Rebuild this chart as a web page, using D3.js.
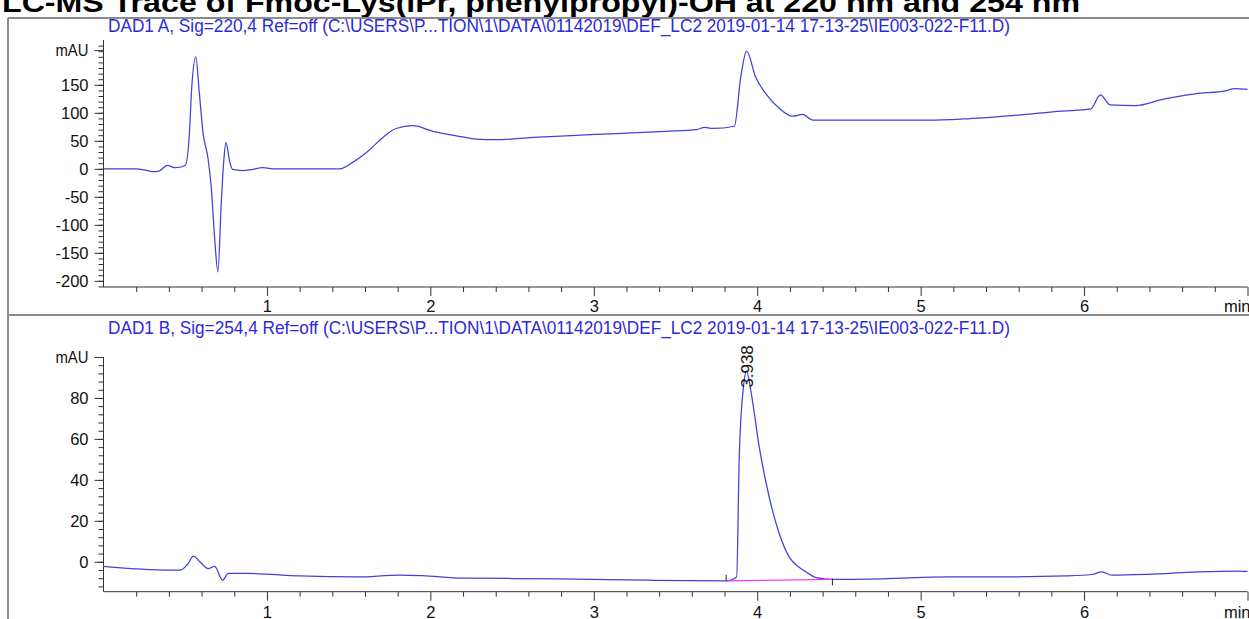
<!DOCTYPE html>
<html>
<head>
<meta charset="utf-8">
<script src="https://cdn.jsdelivr.net/npm/d3@7"></script>
<style>
  html, body { margin: 0; padding: 0; background: #fff; overflow: hidden; }
  svg { display: block; }
  text { font-family: "Liberation Sans", Arial, sans-serif; }
</style>
</head>
<body>
<svg id="chart" width="1249" height="619"></svg>
<script>
// ---------------- DATA ----------------
const chartTitle = "LC-MS Trace of Fmoc-Lys(iPr, phenylpropyl)-OH at 220 nm and 254 nm";
const headerA = "DAD1 A, Sig=220,4 Ref=off (C:\\USERS\\P...TION\\1\\DATA\\01142019\\DEF_LC2 2019-01-14 17-13-25\\IE003-022-F11.D)";
const headerB = "DAD1 B, Sig=254,4 Ref=off (C:\\USERS\\P...TION\\1\\DATA\\01142019\\DEF_LC2 2019-01-14 17-13-25\\IE003-022-F11.D)";

const timeDomain = [0, 7];
const timeTickLabels = [1, 2, 3, 4, 5, 6];
const timeUnit = "min";

// Signal A, 220 nm (time in min, absorbance in mAU)
const timesA = [0.00, 0.20, 0.25, 0.30, 0.34, 0.39, 0.44, 0.50, 0.525, 0.539, 0.565, 0.585, 0.61, 0.64, 0.66, 0.68, 0.70, 0.72, 0.737, 0.749, 0.773, 0.79, 0.85, 0.895, 0.975, 1.05, 1.20, 1.445, 1.527, 1.609, 1.71, 1.79, 1.894, 2.016, 2.16, 2.28, 2.40, 2.63, 2.83, 3.14, 3.44, 3.63, 3.677, 3.727, 3.86, 3.90, 3.935, 3.99, 4.05, 4.135, 4.216, 4.278, 4.34, 4.50, 5.05, 5.26, 5.56, 5.865, 6.04, 6.10, 6.16, 6.315, 6.48, 6.68, 6.865, 6.92, 7.00];
const valuesA = [0, 0, -2, -5, -4, 6, 2, 6, 60, 141, 200, 140, 62, 18, -35, -123, -184, -64, 18, 47, 12, -1, -3, -2, 2, 0, 0, 0, 12, 29, 56, 72, 77, 67, 59, 53, 52, 56, 59, 63, 67, 70, 74, 72, 76, 165, 210, 164, 135, 108, 94, 97, 87, 87, 87, 89, 95, 103, 107, 132, 114, 113, 124, 134, 139, 143, 142];
const yDomainA = [-211, 230];
const yTicksA = [-200, -150, -100, -50, 0, 50, 100, 150];
const yUnitPosA = 212;

// Signal B, 254 nm
const timesB = [0.00, 0.284, 0.468, 0.518, 0.549, 0.59, 0.64, 0.68, 0.729, 0.763, 0.895, 1.2, 1.548, 1.81, 1.95, 2.2, 2.8, 3.34, 3.81, 3.874, 3.89, 3.915, 3.935, 3.962, 4.013, 4.074, 4.135, 4.196, 4.258, 4.298, 4.36, 4.46, 4.77, 5.17, 5.48, 5.89, 6.05, 6.107, 6.17, 6.39, 6.7, 6.93, 7.0];
const valuesB = [-2.2, -3.8, -4.1, -0.9, 2.8, 0, -3.3, -2.2, -9, -5.7, -5.7, -6.9, -7.4, -6.5, -6.8, -8, -8.3, -9, -9.3, -7.4, 50.8, 84.8, 93, 83, 55.7, 31.4, 13.7, 2.3, -2.8, -4.9, -7.7, -8.6, -8.3, -7.4, -7.4, -6.9, -6.2, -4.9, -6.5, -6.1, -4.9, -4.5, -4.7];
const yDomainB = [-14.6, 100];
const yTicksB = [0, 20, 40, 60, 80];
const yUnitPosB = 100;

// Integrated peak in B
const peakLabels = ["3.938"];
const peakTimes = [3.938];
const peakLabelBase = [85];
const intBaseTimes = [3.81, 4.46];
const intBaseValues = [-9.3, -8.6];

// ---------------- LAYOUT ----------------
const W = 1249, H = 619;
const svg = d3.select("#chart");
svg.append("rect").attr("width", W).attr("height", H).attr("fill", "#fff");

const frameColor = "#8c8c8c";
const axisColor = "#333";
const traceColor = "#4242d8";
const headerColor = "#2a2ad8";
const frameTop = 18;

// Title (partially cut at top)
svg.append("text")
  .attr("x", 2).attr("y", 12)
  .attr("font-size", 28).attr("font-weight", "bold").attr("fill", "#000")
  .attr("textLength", 1078).attr("lengthAdjust", "spacingAndGlyphs")
  .text(chartTitle);

// Frame
svg.append("line").attr("x1", 8).attr("x2", W).attr("y1", frameTop).attr("y2", frameTop)
  .attr("stroke", frameColor).attr("stroke-width", 2);
svg.append("line").attr("x1", 8).attr("x2", 8).attr("y1", frameTop).attr("y2", H)
  .attr("stroke", frameColor).attr("stroke-width", 2);
svg.append("line").attr("x1", 8).attr("x2", W).attr("y1", 315).attr("y2", 315)
  .attr("stroke", frameColor).attr("stroke-width", 2);

const x = d3.scaleLinear().domain(timeDomain).range([103.5, 1247.5]);

function panel(cfg) {
  const y = d3.scaleLinear().domain(cfg.yDomain).range([cfg.bottom, cfg.top]);
  const g = svg.append("g");

  // header
  g.append("text")
    .attr("x", 108).attr("y", cfg.headerY)
    .attr("font-size", 17.5).attr("fill", headerColor)
    .attr("textLength", 902).attr("lengthAdjust", "spacingAndGlyphs")
    .text(cfg.header);

  // minor y ticks
  const minorY = d3.range(cfg.minorStart, cfg.minorEnd + 1e-9, cfg.minorStep);
  g.append("g").attr("transform", `translate(${x(0)},0)`)
    .call(d3.axisLeft(y).tickValues(minorY).tickSize(5).tickFormat(""))
    .call(a => a.select(".domain").remove())
    .call(a => a.selectAll("line").attr("stroke", axisColor));

  // major y ticks
  const yAxis = g.append("g").attr("transform", `translate(${x(0)},0)`)
    .call(d3.axisLeft(y).tickValues(cfg.yTicks.concat([cfg.unitPos])).tickSize(9).tickPadding(6)
      .tickFormat(d => d === cfg.unitPos ? "mAU" : String(d)));
  yAxis.select(".domain").attr("d", `M0,${cfg.bottom}V${cfg.top}`).attr("stroke", axisColor);
  yAxis.selectAll("line").attr("stroke", axisColor);
  yAxis.selectAll("text").attr("font-size", 16.5).attr("fill", "#111")
    .attr("font-family", "'Liberation Sans', Arial, sans-serif");
  yAxis.selectAll("text").filter(d => d === cfg.unitPos)
    .attr("font-size", 17)
    .attr("textLength", 33).attr("lengthAdjust", "spacingAndGlyphs");

  // minor x ticks
  const minorX = d3.range(0, 7.0001, 0.2).filter(v => Math.abs(v - Math.round(v)) > 1e-6);
  g.append("g").attr("transform", `translate(0,${cfg.bottom})`)
    .call(d3.axisBottom(x).tickValues(minorX).tickSize(5).tickFormat(""))
    .call(a => a.select(".domain").remove())
    .call(a => a.selectAll("line").attr("stroke", axisColor));

  // major x ticks
  const xAxis = g.append("g").attr("transform", `translate(0,${cfg.bottom})`)
    .call(d3.axisBottom(x).tickValues(timeTickLabels.concat([7])).tickSize(9).tickPadding(cfg.xPad)
      .tickFormat(d => d === 7 ? "" : String(d)));
  xAxis.select(".domain").attr("d", `M${x(0)},0H${x(7)}`).attr("stroke", axisColor);
  xAxis.selectAll("line").attr("stroke", axisColor);
  xAxis.selectAll("text").attr("font-size", 16.5).attr("fill", "#111")
    .attr("font-family", "'Liberation Sans', Arial, sans-serif");
  g.append("text")
    .attr("x", x(7) + 3).attr("y", cfg.bottom + 9 + cfg.xPad).attr("dy", "0.71em")
    .attr("text-anchor", "end").attr("font-size", 16.5).attr("fill", "#111")
    .text(timeUnit);

  // trace
  const pts = cfg.times.map((t, i) => [t, cfg.values[i]]);
  const line = d3.line().x(d => x(d[0])).y(d => y(d[1])).curve(d3.curveMonotoneX);
  g.append("path").datum(pts).attr("d", line)
    .attr("fill", "none").attr("stroke", traceColor).attr("stroke-width", 1.25)
    .attr("stroke-linejoin", "round");

  return { g, y };
}

panel({
  top: 40, bottom: 287, yDomain: yDomainA, yTicks: yTicksA, unitPos: yUnitPosA,
  minorStart: -210, minorEnd: 220, minorStep: 10,
  header: headerA, headerY: 32, xPad: 4,
  times: timesA, values: valuesA
});

const pB = panel({
  top: 357, bottom: 591.7, yDomain: yDomainB, yTicks: yTicksB, unitPos: yUnitPosB,
  minorStart: -12, minorEnd: 100, minorStep: 4,
  header: headerB, headerY: 334, xPad: 6,
  times: timesB, values: valuesB
});

// integration baseline and markers
const yB = pB.y;
pB.g.append("line")
  .attr("x1", x(intBaseTimes[0])).attr("y1", yB(intBaseValues[0]))
  .attr("x2", x(intBaseTimes[1])).attr("y2", yB(intBaseValues[1]))
  .attr("stroke", "#f03cf0").attr("stroke-width", 1.2);
pB.g.append("line")
  .attr("x1", x(intBaseTimes[0])).attr("x2", x(intBaseTimes[0]))
  .attr("y1", yB(intBaseValues[0])).attr("y2", yB(intBaseValues[0]) - 6)
  .attr("stroke", "#222").attr("stroke-width", 1);
pB.g.append("line")
  .attr("x1", x(intBaseTimes[1])).attr("x2", x(intBaseTimes[1]))
  .attr("y1", yB(intBaseValues[1]) - 1).attr("y2", yB(intBaseValues[1]) + 6)
  .attr("stroke", "#222").attr("stroke-width", 1);

// peak labels
peakLabels.forEach((lab, i) => {
  const px = x(peakTimes[i]), py = yB(peakLabelBase[i]);
  pB.g.append("text")
    .attr("transform", `translate(${px},${py}) rotate(-90)`)
    .attr("dominant-baseline", "central")
    .attr("font-size", 17).attr("fill", "#111")
    .text(lab);
});
</script>
</body>
</html>
